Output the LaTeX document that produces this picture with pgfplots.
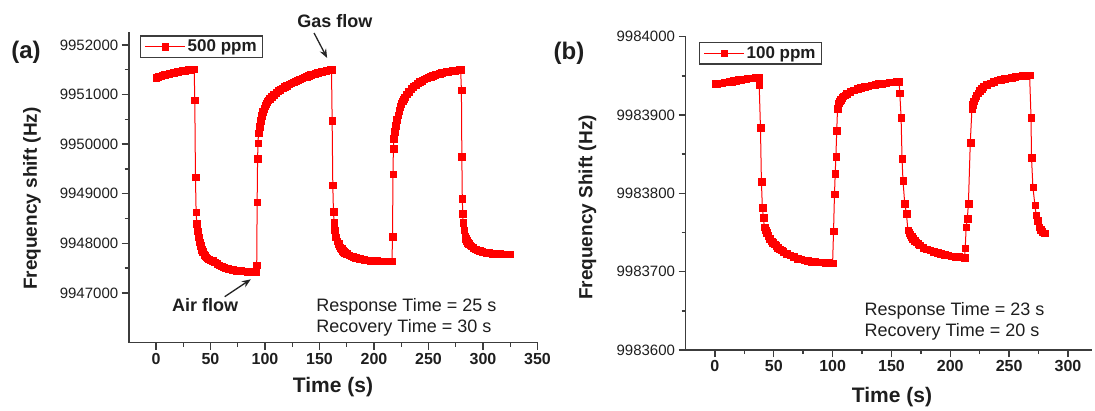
\documentclass[border=0pt]{standalone}
\usepackage{fontspec}
\setmainfont{Liberation Sans}
\usepackage{pgfplots}
\usepackage{pgfplotstable}
\pgfplotsset{compat=1.18}
\usetikzlibrary{arrows.meta}

\definecolor{axisgray}{HTML}{3C3C3C}
\definecolor{txt}{HTML}{1E1E1E}

% sizes are in pt, one pt per pixel of the reference
\newcommand\fs[1]{\fontsize{#1}{#1}\selectfont}

% time (s), frequency (Hz)
\pgfplotstableread[row sep=\\]{
t f\\
0 9951345\\ 2 9951360\\ 4 9951375\\ 6 9951390\\ 8 9951400\\ 10 9951410\\
12 9951420\\ 14 9951430\\ 16 9951440\\ 18 9951450\\ 20 9951460\\ 22 9951470\\
24 9951478\\ 26 9951486\\ 28 9951494\\ 30 9951500\\ 32 9951506\\ 34 9951512\\
35 9951518\\
35.6 9950890\\ 36.2 9949340\\ 36.8 9948630\\ 37.4 9948400\\ 38 9948250\\
39 9948130\\ 40 9948030\\ 41 9947950\\ 42 9947880\\ 43 9947830\\ 44 9947780\\
45 9947750\\ 46 9947720\\ 47 9947700\\
48 9947680\\ 50 9947660\\ 52 9947650\\ 54 9947620\\ 56 9947590\\ 58 9947565\\
60 9947545\\ 62 9947525\\ 64 9947505\\ 66 9947490\\ 68 9947478\\ 70 9947468\\
72 9947460\\ 74 9947455\\ 76 9947450\\ 78 9947446\\ 80 9947442\\ 82 9947438\\
84 9947435\\ 86 9947432\\ 88 9947430\\ 90 9947428\\ 92 9947427\\
92.4 9947560\\ 92.8 9948830\\ 93.2 9949715\\ 93.6 9950020\\ 94 9950220\\
95 9950360\\ 96 9950480\\ 97 9950580\\ 98 9950660\\ 99 9950720\\ 100 9950780\\
101 9950820\\ 102 9950860\\ 103 9950890\\
104 9950920\\ 106 9950965\\ 108 9951005\\ 110 9951040\\ 112 9951075\\
114 9951105\\ 116 9951135\\ 118 9951160\\ 120 9951185\\ 122 9951210\\
124 9951230\\ 126 9951250\\ 128 9951270\\ 130 9951290\\ 132 9951310\\
134 9951330\\ 136 9951350\\ 138 9951368\\ 140 9951385\\ 142 9951400\\
144 9951415\\ 146 9951428\\ 148 9951440\\ 150 9951452\\ 152 9951463\\
154 9951474\\ 156 9951485\\ 158 9951495\\ 160 9951505\\ 161 9951510\\
161.6 9950474\\ 162.2 9949177\\ 162.8 9948640\\ 163.4 9948418\\ 164 9948270\\
165 9948130\\ 166 9948050\\ 167.4 9948000\\ 168 9947960\\ 169 9947920\\
170 9947890\\ 171 9947860\\ 172 9947840\\
173 9947820\\ 175 9947790\\ 177 9947765\\ 179 9947745\\ 181 9947728\\
183 9947713\\ 185 9947700\\ 187 9947690\\ 189 9947680\\ 191 9947672\\
193 9947666\\ 195 9947661\\ 197 9947657\\ 199 9947654\\ 201 9947651\\
203 9947649\\ 205 9947647\\ 207 9947646\\ 209 9947645\\ 211 9947644\\
213 9947643\\ 215 9947642\\ 216.5 9947642\\
217 9948136\\ 217.4 9949399\\ 217.8 9949917\\ 218.2 9950118\\ 219 9950250\\
220 9950380\\ 221 9950490\\ 222 9950590\\ 223 9950680\\ 224 9950760\\
225 9950820\\ 226 9950870\\ 227 9950910\\
228 9950950\\ 230 9951010\\ 232 9951065\\ 234 9951115\\ 236 9951160\\
238 9951195\\ 240 9951230\\ 242 9951260\\ 244 9951285\\ 246 9951310\\
248 9951330\\ 250 9951350\\ 252 9951368\\ 254 9951385\\ 256 9951400\\
258 9951415\\ 260 9951428\\ 262 9951440\\ 264 9951450\\ 266 9951460\\
268 9951468\\ 270 9951476\\ 272 9951483\\ 274 9951489\\ 276 9951494\\
278 9951498\\ 279.5 9951500\\
280.2 9951092\\ 280.6 9949748\\ 281 9948909\\ 281.4 9948606\\ 281.8 9948418\\
282.5 9948270\\ 283.5 9948150\\ 284.3 9948100\\ 285 9948060\\ 286 9948020\\
287 9947990\\ 288 9947965\\ 289 9947945\\
291 9947910\\ 293 9947885\\ 295 9947865\\ 297 9947850\\ 299 9947837\\
301 9947826\\ 303 9947817\\ 305 9947810\\ 307 9947804\\ 309 9947799\\
311 9947795\\ 313 9947792\\ 315 9947790\\ 317 9947788\\ 319 9947787\\
321 9947786\\ 323 9947785\\ 325 9947785\\
}\tbla

\pgfplotstableread[row sep=\\]{
t f\\
0 9983940\\ 2 9983940\\ 4 9983941\\ 6 9983941\\ 8 9983942\\ 10 9983942\\
12 9983943\\ 14 9983943\\ 16 9983944\\ 18 9983944\\ 20 9983945\\ 22 9983945\\
24 9983946\\ 26 9983946\\ 28 9983947\\ 30 9983947\\ 32 9983947\\ 34 9983948\\
36 9983948\\ 37 9983948\\
37.6 9983939\\ 38.7 9983884\\ 39.5 9983815\\ 40.3 9983782\\ 41.2 9983769\\
42 9983757\\ 43 9983753\\ 44 9983750\\ 45.3 9983746\\ 46.7 9983742\\
48 9983739\\ 49 9983737\\ 50.5 9983735\\ 52 9983733\\ 53.5 9983731\\ 55 9983729\\
56.5 9983727.5\\
58 9983726\\ 61 9983723\\ 64 9983721\\ 67 9983719\\ 70 9983717\\ 73 9983716\\
76 9983715\\ 79 9983714\\ 82 9983713\\ 85 9983712.5\\ 88 9983712\\ 91 9983712\\
94 9983711.5\\ 97 9983711.5\\ 100 9983711\\
100.8 9983752\\ 101.6 9983799\\ 102.2 9983825\\ 102.8 9983847\\ 103.5 9983880\\
104.2 9983908\\ 105 9983915\\ 106 9983918\\ 107 9983920\\ 108 9983922\\
109 9983924\\ 110.5 9983925.5\\ 112 9983927\\
115 9983930\\ 118 9983932\\ 121 9983934\\ 124 9983935\\ 127 9983936\\
130 9983937\\ 133 9983938\\ 136 9983939\\ 139 9983940\\ 142 9983940.5\\
145 9983941\\ 148 9983942\\ 151 9983942\\ 154 9983943\\ 156.5 9983943\\
157.1 9983928\\ 158.2 9983897\\ 159 9983844\\ 159.8 9983816\\ 161.3 9983787\\
162.7 9983774\\ 164 9983753\\ 165 9983750\\ 166 9983747\\ 167 9983744.5\\
168 9983742\\ 169.5 9983740\\ 171 9983738\\ 172.5 9983736\\
174 9983734\\ 177 9983731\\ 180 9983729\\ 183 9983727.5\\ 186 9983726\\
189 9983724\\ 192 9983723\\ 195 9983722\\ 198 9983721\\ 201 9983720\\
204 9983719.5\\ 207 9983719\\ 210 9983718.5\\ 212 9983718\\
212.7 9983730\\ 213.5 9983757\\ 214.5 9983768\\ 215.4 9983787\\ 217 9983865\\
218.4 9983908\\ 219.2 9983913\\ 220 9983918\\ 221 9983921.5\\ 222 9983925\\
223.5 9983928\\ 225 9983931\\ 226.5 9983933.5\\ 228 9983936\\
231 9983939\\ 234 9983941\\ 237 9983943\\ 240 9983944.5\\ 243 9983945.5\\
246 9983946.5\\ 249 9983947\\ 252 9983948\\ 255 9983949\\ 258 9983949.5\\
261 9983950\\ 264 9983950.5\\ 267.4 9983951\\
268.6 9983897\\ 269 9983846\\ 270.2 9983808\\ 271.9 9983785\\ 273 9983772\\
274 9983765\\ 275.3 9983757\\ 276.5 9983754\\ 278 9983751\\ 280 9983749\\
}\tblb

% the FPU keeps only ~5 digits, so plot the offset from the axis minimum
\pgfplotstablecreatecol[create col/assign/.code={%
  \edef\entry{\fpeval{\thisrow{f}-9946000}}%
  \pgfkeyslet{/pgfplots/table/create col/next content}\entry}]{df}\tbla
\pgfplotstablecreatecol[create col/assign/.code={%
  \edef\entry{\fpeval{\thisrow{f}-9983600}}%
  \pgfkeyslet{/pgfplots/table/create col/next content}\entry}]{df}\tblb

\tikzset{arr/.style={-{Stealth[length=9pt,width=7pt]}, line width=1.3pt, draw=black!85}}

\pgfplotsset{
  originstyle/.style={
    scale only axis,
    axis x line*=bottom, axis y line*=left,
    axis line style={-, draw=axisgray, line width=1.6pt},
    tick align=outside,
    major tick length=7pt, minor tick length=4pt,
    tick style={draw=axisgray, line width=1.4pt},
    minor x tick num=1, minor y tick num=1,
    /pgf/number format/assume math mode=true,
    xticklabel style={font=\bfseries\fs{16}, text=txt},
    yticklabel style={font=\fs{15}, text=txt},
    clip=false,
    legend cell align=left,
    legend image code/.code={
      \draw[mark repeat=2, mark phase=2, ##1]
        plot coordinates {(0pt,0pt) (20pt,0pt) (40pt,0pt)};},
  },
  series/.style={
    color=red, line width=1pt, mark=square*, mark size=3.3pt,
    mark options={solid, fill=red, draw=red, line width=0.2pt}},
}

\begin{document}
\begin{tikzpicture}
\path[use as bounding box] (0,0) rectangle (1095pt,410pt);

% ---------------- (a) 500 ppm ----------------
\begin{axis}[originstyle,
  at={(128.75pt,67.4pt)}, anchor=south west,
  width=408.75pt, height=310.5pt,
  xmin=-25, xmax=350, xtick={0,50,...,350},
  ymin=0, ymax=6260,
  ytick={1000,2000,3000,4000,5000,6000},
  yticklabels={9947000,9948000,9949000,9950000,9951000,9952000},
  legend style={at={(0.0275,0.99)}, anchor=north west, draw=axisgray,
    line width=1.5pt, font=\bfseries\fs{17}, text=txt,
    inner xsep=4pt, inner ysep=2pt},
]
\addplot[series] table[x=t, y=df] {\tbla};
\addlegendentry{500 ppm}

\node[font=\bfseries\fs{18}, text=txt] at (axis cs:164,6483) {Gas flow};
\draw[arr] (axis cs:145,6242) -- (axis cs:157,5738);
\node[font=\bfseries\fs{18}, text=txt] at (axis cs:45,758) {Air flow};
\draw[arr] (axis cs:63,925) -- (axis cs:87,1276);
\node[anchor=west, align=left, inner sep=0pt, font=\fontsize{18}{21}\selectfont, text=txt]
  at (axis cs:147,506) {Response Time = 25 s\\Recovery Time = 30 s};
\end{axis}

% ---------------- (b) 100 ppm ----------------
\begin{axis}[originstyle,
  at={(685.5pt,60pt)}, anchor=south west,
  width=406pt, height=313.3pt,
  xmin=-25, xmax=320, xtick={0,50,...,300},
  ymin=0, ymax=400,
  ytick={0,100,200,300,400},
  yticklabels={9983600,9983700,9983800,9983900,9984000},
  legend style={at={(0.033,0.984)}, anchor=north west, draw=axisgray,
    line width=1.5pt, font=\bfseries\fs{17}, text=txt,
    inner xsep=4pt, inner ysep=2pt},
]
\addplot[series] table[x=t, y=df] {\tblb};
\addlegendentry{100 ppm}

\node[anchor=west, align=left, inner sep=0pt, font=\fontsize{18}{21}\selectfont, text=txt]
  at (axis cs:127,36) {Response Time = 23 s\\Recovery Time = 20 s};
\end{axis}

% panel letters and axis titles
\node[font=\bfseries\fs{24}, text=txt] at (26pt,358pt) {(a)};
\node[font=\bfseries\fs{24}, text=txt] at (569pt,357pt) {(b)};
\node[font=\bfseries\fs{19}, text=txt, rotate=90] at (32pt,211.5pt) {Frequency shift (Hz)};
\node[font=\bfseries\fs{19}, text=txt, rotate=90] at (587.5pt,202.5pt) {Frequency Shift (Hz)};
\node[font=\bfseries\fs{21}, text=txt] at (333pt,23pt) {Time (s)};
\node[font=\bfseries\fs{21}, text=txt] at (892pt,13pt) {Time (s)};
\end{tikzpicture}
\end{document}
